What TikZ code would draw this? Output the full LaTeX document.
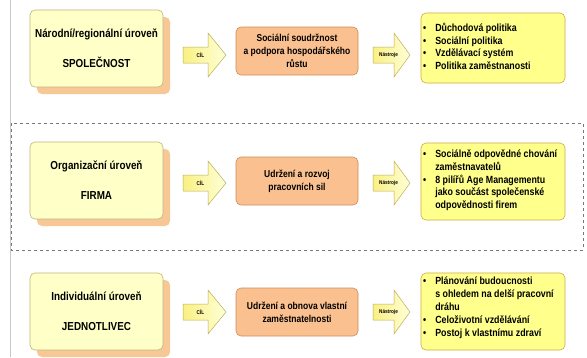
\documentclass[tikz,border=0pt]{standalone}
\usepackage{fontspec}
\setmainfont{Liberation Sans}[FakeStretch=0.85]
\usetikzlibrary{shadows}
\definecolor{leftfill}{RGB}{255,255,200}
\definecolor{leftdraw}{RGB}{190,180,120}
\definecolor{shadowc}{RGB}{247,200,150}
\definecolor{orangefill}{RGB}{250,192,143}
\definecolor{orangedraw}{RGB}{205,140,90}
\definecolor{rightfill}{RGB}{255,255,140}
\definecolor{rightdraw}{RGB}{205,170,70}
\definecolor{arrowdraw}{RGB}{185,175,90}
\definecolor{arrowA}{RGB}{250,240,130}
\definecolor{arrowB}{RGB}{255,255,215}
\definecolor{dashc}{RGB}{120,120,120}
\definecolor{edgec}{RGB}{200,200,200}
\tikzset{
  lbox/.style={draw=leftdraw, fill=leftfill, rounded corners=5pt, line width=0.6pt,
    minimum width=133pt, minimum height=77pt, align=center,
    font=\fontsize{11.6}{13}\selectfont\bfseries,
    drop shadow={shadow xshift=7pt, shadow yshift=-7pt, fill=shadowc, opacity=1, draw=none}},
  obox/.style={draw=orangedraw, fill=orangefill, rounded corners=5pt, line width=0.6pt,
    minimum width=122pt, minimum height=48pt, align=center,
    font=\fontsize{10}{12.8}\selectfont\bfseries},
  rbox/.style={draw=rightdraw, fill=rightfill, rounded corners=5pt, line width=0.6pt,
    minimum width=144pt, minimum height=#1},
  rtext/.style={anchor=west, inner sep=0pt, font=\fontsize{10.4}{12.8}\selectfont\bfseries},
  barrow/.style={draw=arrowdraw, line width=0.5pt, left color=arrowA, right color=arrowB},
  alabel/.style={inner sep=0pt, font=\fontsize{5.5}{6}\selectfont\bfseries},
}
\newcommand\blockarrow[6]{%
  \path[barrow] (#2,#5-8) -- (#3,#5-8) -- (#3,#5-22) -- (#4,#5) -- (#3,#5+22)
    -- (#3,#5+8) -- (#2,#5+8) -- cycle;
  \node[alabel] (#1) at ({(#2+#3)/2+5},#5) {#6};}
\begin{document}
\begin{tikzpicture}[x=1pt,y=-1pt]
\useasboundingbox[fill=white] (0,0) rectangle (587,357);
\draw[edgec, line width=0.5pt] (10,0) -- (10,357);
\draw[dashc, dashed, line width=0.6pt] (11,123) rectangle (583,250);
% row 1
\node[lbox] (L1) at (96.5,48.5) {Národní/regionální úroveň\\[17pt]SPOLEČNOST};
\node[obox] (O1) at (297,51) {Sociální soudržnost\\a podpora hospodářského\\růstu};
\node[rbox=70pt] (R1) at (493,48) {};
\node[rtext] (T1) at (423,48) {\begin{tabular}{@{}l@{\hspace{9pt}}l@{}}
•&Důchodová politika\\ •&Sociální politika\\ •&Vzdělávací systém\\ •&Politika zaměstnanosti\end{tabular}};
\blockarrow{C1}{183}{208}{226}{55}{CÍL}
\blockarrow{N1}{373}{394}{410}{55}{Nástroje}
% row 2
\node[lbox] (L2) at (96.5,180.5) {Organizační úroveň\\[17pt]FIRMA};
\node[obox] (O2) at (297,181) {Udržení a rozvoj\\pracovních sil};
\node[rbox=77pt] (R2) at (493,181.5) {};
\node[rtext] (T2) at (423,180.5) {\begin{tabular}{@{}l@{\hspace{9pt}}l@{}}
•&Sociálně odpovědné chování\\ &zaměstnavatelů\\ •&8 pilířů Age Managementu\\ &jako součást společenské\\ &odpovědnosti firem\end{tabular}};
\blockarrow{C2}{183}{208}{226}{183}{CÍL}
\blockarrow{N2}{373}{394}{410}{183}{Nástroje}
% row 3
\node[lbox] (L3) at (96.5,311.5) {Individuální úroveň\\[17pt]JEDNOTLIVEC};
\node[obox] (O3) at (297,312) {Udržení a obnova vlastní\\zaměstnatelnosti};
\node[rbox=77pt] (R3) at (493,311.5) {};
\node[rtext] (T3) at (423,308) {\begin{tabular}{@{}l@{\hspace{9pt}}l@{}}
•&Plánování budoucnosti\\ &s ohledem na delší pracovní\\ &dráhu\\ •&Celoživotní vzdělávání\\ •&Postoj k vlastnímu zdraví\end{tabular}};
\blockarrow{C3}{183}{208}{226}{312}{CÍL}
\blockarrow{N3}{373}{394}{410}{312}{Nástroje}
\end{tikzpicture}
\end{document}
